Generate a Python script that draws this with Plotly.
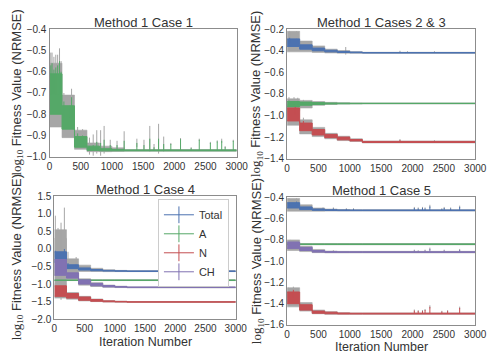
import plotly.graph_objects as go

# Iteration boundaries of the optimiser restarts (one band level per segment)
STAGE_X = [0, 200, 400, 600, 800, 1000, 1200, 3000]
X_TICKS = [0, 500, 1000, 1500, 2000, 2500, 3000]

SERIES_NAMES = ["Total", "A", "N", "CH"]
COLORS = {"Total": "#4C72B0", "A": "#55A868", "N": "#C44E52", "CH": "#8172B2"}
ERR_COLOR = "#a6a6a6"

# ---- Method 1, Case 1 -------------------------------------------------------
CASE1_A = dict(
    line_lo=[-0.80, -0.87, -0.955, -0.970, -0.972, -0.972, -0.972],
    line_hi=[-0.61, -0.76, -0.905, -0.950, -0.962, -0.966, -0.968],
    err_lo=[-0.86, -0.91, -0.965, -0.976, -0.976, -0.975, -0.974],
    err_hi=[-0.56, -0.71, -0.875, -0.935, -0.950, -0.958, -0.966],
    spike_x=[20, 40, 70, 100, 130, 160, 185, 230, 330, 353, 450, 530, 640, 700,
             757, 819, 875, 973, 1082, 1196, 1400, 1514, 1607, 1675, 1748, 1830,
             1944, 2100, 2270, 2400, 2578, 2688, 2760, 2815, 2945],
    spike_v=[-0.57, -0.56, -0.59, -0.58, -0.57, -0.55, -0.60, -0.74, -0.76, -0.72,
             -0.89, -0.90, -0.95, -0.945, -0.93, -0.935, -0.92, -0.945, -0.945,
             -0.925, -0.935, -0.945, -0.915, -0.955, -0.915, -0.94, -0.94, -0.917,
             -0.96, -0.92, -0.935, -0.928, -0.925, -0.955, -0.925],
    spike_e=[0.06, 0.05, 0.06, 0.06, 0.05, 0.06, 0.05, 0.04, 0.04, 0.04,
             0.03, 0.03, 0.04, 0.05, 0.055, 0.06, 0.065, 0.025, 0.02, 0.045,
             0.02, 0.025, 0.06, 0.015, 0.07, 0.035, 0.005, 0.005, 0.005, 0.005,
             0.005, 0.005, 0.01, 0.005, 0.005],
)

# ---- Method 1, Cases 2 & 3 --------------------------------------------------
CASE23_TOTAL = dict(
    line_lo=[-0.36, -0.385, -0.400, -0.410, -0.416, -0.418, -0.421],
    line_hi=[-0.29, -0.345, -0.375, -0.395, -0.406, -0.412, -0.416],
    err_lo=[-0.41, -0.410, -0.415, -0.420, -0.422, -0.423, -0.424],
    err_hi=[-0.22, -0.310, -0.355, -0.385, -0.398, -0.408, -0.414],
    spike_x=[40, 150, 935, 1800, 1920, 2350],
    spike_v=[-0.28, -0.29, -0.40, -0.41, -0.412, -0.412],
    spike_e=[0.06, 0.07, 0.035, 0.01, 0.008, 0.008],
)
CASE23_A = dict(
    line_lo=[-0.92, -0.905, -0.898, -0.893, -0.891, -0.890, -0.889],
    line_hi=[-0.87, -0.875, -0.880, -0.884, -0.885, -0.886, -0.886],
    err_lo=[-0.96, -0.930, -0.905, -0.897, -0.894, -0.893, -0.892],
    err_hi=[-0.845, -0.860, -0.870, -0.878, -0.881, -0.883, -0.884],
    spike_x=[30, 110, 170, 260, 350],
    spike_v=[-0.86, -0.87, -0.865, -0.875, -0.88],
    spike_e=[0.03, 0.04, 0.03, 0.02, 0.015],
)
CASE23_N = dict(
    line_lo=[-1.05, -1.14, -1.18, -1.205, -1.225, -1.235, -1.250],
    line_hi=[-0.93, -1.07, -1.13, -1.175, -1.200, -1.222, -1.240],
    err_lo=[-1.09, -1.17, -1.195, -1.215, -1.232, -1.240, -1.254],
    err_hi=[-0.90, -1.04, -1.11, -1.165, -1.192, -1.215, -1.236],
    spike_x=[20, 130, 260, 980, 1800, 2350],
    spike_v=[-0.93, -0.92, -1.05, -1.215, -1.228, -1.236],
    spike_e=[0.03, 0.04, 0.03, 0.02, 0.01, 0.008],
)

# ---- Method 1, Case 4 -------------------------------------------------------
CASE4_TOTAL = dict(
    line_lo=[-0.38, -0.56, -0.60, -0.620, -0.630, -0.635, -0.640],
    line_hi=[-0.08, -0.45, -0.54, -0.585, -0.610, -0.620, -0.625],
    err_lo=[-0.75, -0.62, -0.64, -0.640, -0.645, -0.645, -0.645],
    err_hi=[0.55, -0.28, -0.46, -0.550, -0.590, -0.610, -0.620],
    spike_x=[15, 165, 225, 360, 2480, 2600, 2700],
    spike_v=[-0.05, 0.0, -0.40, -0.45, -0.55, -0.60, -0.61],
    spike_e=[1.00, 1.18, 0.32, 0.22, 0.06, 0.015, 0.015],
)
CASE4_A = dict(
    line_lo=[-0.895, -0.895, -0.895, -0.895, -0.895, -0.895, -0.895],
    line_hi=[-0.885, -0.885, -0.885, -0.885, -0.885, -0.885, -0.885],
    err_lo=[-0.900, -0.900, -0.900, -0.900, -0.900, -0.900, -0.900],
    err_hi=[-0.880, -0.880, -0.880, -0.880, -0.880, -0.880, -0.880],
    spike_x=[],
    spike_v=[],
    spike_e=[],
)
CASE4_N = dict(
    line_lo=[-1.35, -1.40, -1.46, -1.490, -1.505, -1.510, -1.515],
    line_hi=[-1.05, -1.27, -1.37, -1.440, -1.480, -1.495, -1.505],
    err_lo=[-1.40, -1.43, -1.48, -1.500, -1.512, -1.516, -1.520],
    err_hi=[-1.00, -1.24, -1.35, -1.425, -1.470, -1.488, -1.500],
    spike_x=[30, 150, 560],
    spike_v=[-1.05, -1.08, -1.41],
    spike_e=[0.05, 0.05, 0.02],
)
CASE4_CH = dict(
    line_lo=[-0.75, -0.83, -1.00, -1.05, -1.080, -1.090, -1.100],
    line_hi=[-0.30, -0.68, -0.88, -0.98, -1.040, -1.070, -1.085],
    err_lo=[-1.00, -0.86, -1.03, -1.07, -1.090, -1.100, -1.105],
    err_hi=[0.30, -0.58, -0.85, -0.96, -1.030, -1.060, -1.080],
    spike_x=[60, 110, 2480, 2600, 2700],
    spike_v=[-0.35, -0.35, -1.00, -1.07, -1.075],
    spike_e=[0.95, 1.10, 0.06, 0.015, 0.015],
)

# ---- Method 1, Case 5 -------------------------------------------------------
CASE5_TOTAL = dict(
    line_lo=[-0.50, -0.515, -0.522, -0.524, -0.525, -0.525, -0.525],
    line_hi=[-0.45, -0.490, -0.510, -0.516, -0.518, -0.519, -0.519],
    err_lo=[-0.53, -0.530, -0.530, -0.529, -0.528, -0.528, -0.528],
    err_hi=[-0.41, -0.470, -0.500, -0.510, -0.514, -0.516, -0.516],
    spike_x=[30, 150, 573, 738, 945, 1059, 2029, 2091, 2159, 2200, 2277, 2468,
             2505, 2608, 2752],
    spike_v=[-0.45, -0.44, -0.505, -0.505, -0.51, -0.51, -0.50, -0.505, -0.50,
             -0.505, -0.485, -0.51, -0.50, -0.505, -0.49],
    spike_e=[0.04, 0.03, 0.01, 0.01, 0.008, 0.008, 0.01, 0.01, 0.01, 0.01,
             0.015, 0.008, 0.01, 0.01, 0.012],
)
CASE5_A = dict(
    line_lo=[-0.843, -0.843, -0.843, -0.843, -0.843, -0.843, -0.843],
    line_hi=[-0.838, -0.838, -0.838, -0.838, -0.838, -0.838, -0.838],
    err_lo=[-0.846, -0.846, -0.846, -0.846, -0.846, -0.846, -0.846],
    err_hi=[-0.835, -0.835, -0.835, -0.835, -0.835, -0.835, -0.835],
    spike_x=[],
    spike_v=[],
    spike_e=[],
)
CASE5_N = dict(
    line_lo=[-1.40, -1.46, -1.490, -1.495, -1.497, -1.497, -1.497],
    line_hi=[-1.29, -1.41, -1.470, -1.480, -1.488, -1.490, -1.490],
    err_lo=[-1.43, -1.47, -1.495, -1.500, -1.500, -1.500, -1.500],
    err_hi=[-1.25, -1.39, -1.460, -1.475, -1.485, -1.487, -1.487],
    spike_x=[20, 100, 560, 2029, 2091, 2159, 2200, 2277, 2468, 2560, 2752],
    spike_v=[-1.29, -1.27, -1.47, -1.465, -1.47, -1.47, -1.46, -1.43, -1.475,
             -1.47, -1.44],
    spike_e=[0.04, 0.03, 0.01, 0.01, 0.01, 0.01, 0.01, 0.015, 0.008, 0.01, 0.012],
)
CASE5_CH = dict(
    line_lo=[-0.88, -0.900, -0.915, -0.918, -0.918, -0.918, -0.918],
    line_hi=[-0.82, -0.870, -0.900, -0.910, -0.912, -0.912, -0.912],
    err_lo=[-0.90, -0.910, -0.920, -0.922, -0.922, -0.922, -0.922],
    err_hi=[-0.80, -0.860, -0.890, -0.905, -0.908, -0.908, -0.908],
    spike_x=[50, 573, 738, 2029, 2091, 2200, 2277, 2505, 2752],
    spike_v=[-0.82, -0.905, -0.905, -0.90, -0.905, -0.90, -0.885, -0.90, -0.895],
    spike_e=[0.02, 0.008, 0.008, 0.008, 0.008, 0.008, 0.012, 0.008, 0.01],
)

PANELS = [
    dict(title="Method 1 Case 1", yrange=[-1.0, -0.4], dtick=0.1,
         series=[("A", CASE1_A)]),
    dict(title="Method 1 Cases 2 & 3", yrange=[-1.4, -0.2], dtick=0.2,
         series=[("Total", CASE23_TOTAL), ("A", CASE23_A), ("N", CASE23_N)]),
    dict(title="Method 1 Case 4", yrange=[-2.0, 1.5], dtick=0.5,
         series=[("Total", CASE4_TOTAL), ("A", CASE4_A), ("N", CASE4_N),
                 ("CH", CASE4_CH)]),
    dict(title="Method 1 Case 5", yrange=[-1.6, -0.4], dtick=0.2,
         series=[("Total", CASE5_TOTAL), ("A", CASE5_A), ("N", CASE5_N),
                 ("CH", CASE5_CH)]),
]

# Plot-area boxes in pixels: (left, right, top, bottom)
W, H = 494, 358
BOXES = [(48, 241, 24, 156), (293, 487, 24, 158),
         (53, 240, 197, 324), (293, 487, 198, 330)]
YTITLE_X = [15, 262, 15, 262]
XTITLE_GAP = [0, 0, 24, 23]
TEXT = "#333333"
FRAME = "#8c8c8c"
FONT = "Liberation Sans, Arial, sans-serif"


def px_x(v):
    return v / W


def px_y(v):
    return 1 - v / H


def stepped(vals):
    return list(vals) + [vals[-1]]


def stage_mid(s, x):
    for i in range(len(STAGE_X) - 1):
        if STAGE_X[i] <= x < STAGE_X[i + 1]:
            return 0.5 * (s["line_lo"][i] + s["line_hi"][i])
    return 0.5 * (s["line_lo"][-1] + s["line_hi"][-1])


def band(fig, lo, hi, color, width, xa, ya):
    common = dict(x=STAGE_X, mode="lines", xaxis=xa, yaxis=ya,
                  showlegend=False, hoverinfo="skip")
    fig.add_trace(go.Scatter(y=stepped(lo), line=dict(color=color, width=width, shape="hv"),
                             **common))
    fig.add_trace(go.Scatter(y=stepped(hi), line=dict(color=color, width=width, shape="hv"),
                             fill="tonexty", fillcolor=color, **common))


def bars(fig, xs, y0s, y1s, color, width, xa, ya):
    px, py = [], []
    for x, a, b in zip(xs, y0s, y1s):
        px += [x, x, None]
        py += [a, b, None]
    if px:
        fig.add_trace(go.Scatter(x=px, y=py, mode="lines", xaxis=xa, yaxis=ya,
                                 line=dict(color=color, width=width),
                                 showlegend=False, hoverinfo="skip"))


fig = go.Figure()
annotations = []

for k, (panel, box) in enumerate(zip(PANELS, BOXES), start=1):
    xa, ya = f"x{k}", f"y{k}"
    # error bars (grey) underneath
    for name, s in panel["series"]:
        band(fig, s["err_lo"], s["err_hi"], ERR_COLOR, 0.6, xa, ya)
        bars(fig, s["spike_x"],
             [v - e for v, e in zip(s["spike_v"], s["spike_e"])],
             [v + e for v, e in zip(s["spike_v"], s["spike_e"])],
             ERR_COLOR, 1, xa, ya)
    # fitness traces on top
    for name, s in panel["series"]:
        band(fig, s["line_lo"], s["line_hi"], COLORS[name], 1.0, xa, ya)
        bars(fig, s["spike_x"], [stage_mid(s, x) for x in s["spike_x"]],
             s["spike_v"], COLORS[name], 1, xa, ya)

    l, r, t, b = box
    axis_common = dict(showline=True, mirror=True, linecolor=FRAME, linewidth=1.2,
                       showgrid=False, zeroline=False, ticks="",
                       tickfont=dict(size=10, color=TEXT, family=FONT))
    fig.update_layout({
        f"xaxis{k}": dict(domain=[px_x(l), px_x(r)], anchor=ya, range=[0, 3000],
                          tickvals=X_TICKS, **axis_common),
        f"yaxis{k}": dict(domain=[px_y(b), px_y(t)], anchor=xa,
                          range=panel["yrange"], dtick=panel["dtick"],
                          tickformat=".1f", **axis_common),
    })

    annotations.append(dict(text=panel["title"], xref="paper", yref="paper",
                            x=px_x((l + r) / 2), y=px_y(t - 7), xanchor="center",
                            yanchor="middle", showarrow=False,
                            font=dict(size=13, color=TEXT, family=FONT)))
    annotations.append(dict(
        text='<span style="font-family:Liberation Serif">log<sub>10</sub></span> '
             'Fitness Value (NRMSE)',
        xref="paper", yref="paper", x=px_x(YTITLE_X[k - 1]), y=px_y((t + b) / 2),
        xanchor="center", yanchor="middle", textangle=-90, showarrow=False,
        font=dict(size=13, color=TEXT, family=FONT)))
    if XTITLE_GAP[k - 1]:
        annotations.append(dict(text="Iteration Number", xref="paper", yref="paper",
                                x=px_x((l + r) / 2), y=px_y(b + XTITLE_GAP[k - 1]),
                                xanchor="center", yanchor="middle", showarrow=False,
                                borderpad=0,
                                font=dict(size=12.5, color=TEXT, family=FONT)))

# legend entries (line with an error-bar tick), shown in the Case 4 panel
for name in SERIES_NAMES:
    fig.add_trace(go.Scatter(x=[None], y=[None], name=name, mode="lines+markers",
                             xaxis="x3", yaxis="y3",
                             line=dict(color=COLORS[name], width=1),
                             marker=dict(symbol="line-ns", size=12,
                                         line=dict(color=COLORS[name], width=1))))

fig.update_layout(
    width=W, height=H, margin=dict(l=0, r=0, t=0, b=0),
    paper_bgcolor="white", plot_bgcolor="white",
    font=dict(family=FONT, color=TEXT),
    annotations=annotations,
    showlegend=True,
    legend=dict(x=px_x(233), y=px_y(200), xanchor="right", yanchor="top",
                bgcolor="white", bordercolor="#cccccc", borderwidth=1,
                font=dict(size=11, color=TEXT, family=FONT),
                traceorder="normal", tracegroupgap=0),
)

fig.write_html("out.html")
